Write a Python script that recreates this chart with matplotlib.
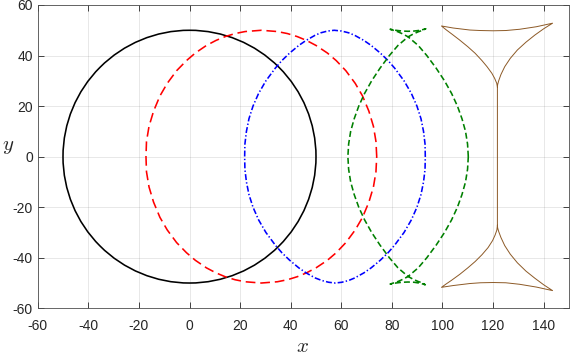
import matplotlib
matplotlib.use('Agg')
import matplotlib.pyplot as plt
from matplotlib.patches import Circle

plt.rcParams['axes.unicode_minus'] = False
plt.rcParams['mathtext.fontset'] = 'cm'
plt.rcParams['lines.scale_dashes'] = False
plt.rcParams['font.family'] = ['Liberation Sans', 'DejaVu Sans']

# ---- data ----
circle_center = (0.0, 0.0)
circle_radius = 50.0

red_x = [74.0, 73.7, 72.7, 70.9, 68.4, 65.5, 61.8, 58.0, 54.5, 50.0, 46.2, 42.6, 38.7, 34.7, 28.4,
         22.0, 18.0, 14.1, 10.5, 6.7, 2.3, -1.2, -5.1, -8.8, -11.7, -14.2, -16.0, -17.0, -17.2,
         -17.0, -16.0, -14.2, -11.7, -8.8, -5.1, -1.2, 2.3, 6.7, 10.5, 14.1, 18.0, 22.0, 28.4,
         34.7, 38.7, 42.6, 46.2, 50.0, 54.5, 58.0, 61.8, 65.5, 68.4, 70.9, 72.7, 73.7, 74.0]
red_y = [0, 6, 12, 18, 24, 29, 34, 38, 41, 44, 46, 47.5, 48.7, 49.5, 50,
         49.5, 48.7, 47.5, 46, 44, 41, 38, 34, 29, 24, 18, 12, 6, 0,
         -6, -12, -18, -24, -29, -34, -38, -41, -44, -46, -47.5, -48.7, -49.5, -50,
         -49.5, -48.7, -47.5, -46, -44, -41, -38, -34, -29, -24, -18, -12, -6, 0]

blue_x = [93.2, 93.1, 92.5, 91.5, 89.9, 87.7, 84.8, 81.1, 78.5, 75.4, 71.8, 68.9, 65.3, 62.9, 60.1, 57.2,
          54.6, 51.9, 49.6, 46.1, 43.2, 39.6, 36.5, 33.9, 30.2, 27.3, 25.1, 23.5, 22.5, 21.9, 21.8,
          21.9, 22.5, 23.5, 25.1, 27.3, 30.2, 33.9, 36.5, 39.6, 43.2, 46.1, 49.7, 52.3, 55.0, 57.6,
          60.2, 62.9, 65.3, 68.9, 71.8, 75.4, 78.5, 81.1, 84.8, 87.7, 89.9, 91.5, 92.5, 93.1, 93.2]
blue_y = [0, 5, 10, 15, 20, 25, 30, 35, 38, 41, 44, 46, 48, 49, 49.7, 50,
          49.7, 49, 48, 46, 44, 41, 38, 35, 30, 25, 20, 15, 10, 5, 0,
          -5, -10, -15, -20, -25, -30, -35, -38, -41, -44, -46, -48, -49, -49.7, -50,
          -49.7, -49, -48, -46, -44, -41, -38, -35, -30, -25, -20, -15, -10, -5, 0]

green_x = [110.2, 109.9, 109.1, 107.7, 105.9, 103.6, 100.8, 97.5, 93.8, 90.4, 86.4, 84.4, 82.4, 80.6, 79.3,
           81.5, 84.0, 86.4, 88.8, 91.3, 93.4,
           92.2, 90.4, 88.4, 86.4, 82.4, 79.0, 75.3, 72.0, 69.2, 66.9, 65.1, 63.7, 62.9, 62.6,
           62.9, 63.7, 65.1, 66.9, 69.2, 72.0, 75.3, 79.0, 82.4, 86.4, 88.4, 90.4, 92.2, 93.2,
           91.3, 88.8, 86.4, 84.0, 81.5, 79.3,
           80.6, 82.4, 84.4, 86.4, 90.4, 93.8, 97.5, 100.8, 103.6, 105.9, 107.7, 109.1, 109.9, 110.2]
green_y = [0, 5, 10, 15, 20, 25, 30, 35, 40, 44, 47.4, 48.5, 49.4, 50.0, 50.4,
           50.0, 49.7, 49.6, 49.7, 50.0, 50.6,
           50.0, 49.4, 48.5, 47.4, 44, 40, 35, 30, 25, 20, 15, 10, 5, 0,
           -5, -10, -15, -20, -25, -30, -35, -40, -44, -47.4, -48.5, -49.4, -50.0, -50.7,
           -50.1, -49.7, -49.6, -49.7, -50.0, -50.4,
           -50.0, -49.4, -48.5, -47.4, -44, -40, -35, -30, -25, -20, -15, -10, -5, 0]

brown_x = [121.7, 121.45, 120.6, 119.5, 117.6, 115.6, 112.9, 110.0, 106.7, 103.7, 101.3, 99.6,
           104.2, 110.8, 115.0, 120.0, 125.0, 130.5, 137.1, 143.5,
           140.0, 136.5, 133.0, 129.6, 126.8, 124.6, 123.1, 122.2, 121.8, 121.7,
           121.7,
           121.5, 120.8, 119.8, 118.0, 115.6, 112.9, 110.0, 106.9, 103.6, 101.4, 99.6,
           104.2, 110.8, 115.0, 120.0, 125.0, 130.5, 137.1, 143.5,
           140.0, 136.5, 133.0, 129.6, 126.8, 124.6, 123.1, 122.2, 121.8, 121.7]
brown_y = [27.5, 29.0, 31.0, 33.0, 35.6, 38.0, 40.9, 43.5, 46.2, 48.5, 50.3, 51.7,
           50.9, 50.1, 49.9, 49.8, 49.9, 50.4, 51.4, 52.8,
           50.6, 48.1, 45.3, 42.2, 38.9, 35.6, 32.5, 30.0, 28.5, 27.5,
           -27.2,
           -29.0, -31.0, -33.2, -36.0, -38.8, -41.5, -44.0, -46.5, -48.9, -50.4, -51.7,
           -51.0, -50.2, -49.9, -49.8, -49.9, -50.5, -51.6, -53.0,
           -50.7, -48.1, -45.3, -42.0, -38.6, -35.2, -32.0, -29.6, -28.2, -27.2]

x_ticks = [-60, -40, -20, 0, 20, 40, 60, 80, 100, 120, 140]
y_ticks = [-60, -40, -20, 0, 20, 40, 60]

# ---- figure ----
W, H = 570, 354
fig = plt.figure(figsize=(W / 100, H / 100), dpi=100)
ax = fig.add_axes([37.7 / W, 1 - 308.3 / H, (569 - 37.7) / W, (308.3 - 5) / H])
ax.set_xlim(-60, 150)
ax.set_ylim(-60, 60)

ax.add_patch(Circle(circle_center, circle_radius, fill=False, color='black', lw=1.15, zorder=3))
ax.plot(red_x, red_y, color='red', lw=1.15, dashes=(7, 3.5), zorder=3)
ax.plot(blue_x, blue_y, color='blue', lw=1.15, dashes=(4.3, 1.6, 1.0, 1.6), zorder=3)
ax.plot(green_x, green_y, color=(0, 0.5, 0), lw=1.15, dashes=(4.3, 2.2), zorder=3)
ax.plot(brown_x, brown_y, color=(0.55, 0.35, 0.15), lw=0.7, zorder=3)

ax.set_xticks(x_ticks)
ax.set_yticks(y_ticks)
ax.grid(True, color=(0.15, 0.15, 0.15), alpha=0.12, lw=0.6)
ax.set_axisbelow(True)
ax.tick_params(direction='in', length=4, width=0.6, top=True, right=True,
               colors=(0.15, 0.15, 0.15), labelsize=10)
ax.tick_params(axis='x', pad=8)
ax.tick_params(axis='y', pad=3.5)
for s in ax.spines.values():
    s.set_color((0.3, 0.3, 0.3))
    s.set_linewidth(0.6)

fig.text(303 / W, 1 - 351.5 / H, r'$x$', ha='center', va='baseline', fontsize=15, color=(0.15, 0.15, 0.15))
fig.text(8 / W, 1 - 146 / H, r'$y$', ha='center', va='center', fontsize=15, color=(0.15, 0.15, 0.15))

fig.savefig('out.png', dpi=100)
